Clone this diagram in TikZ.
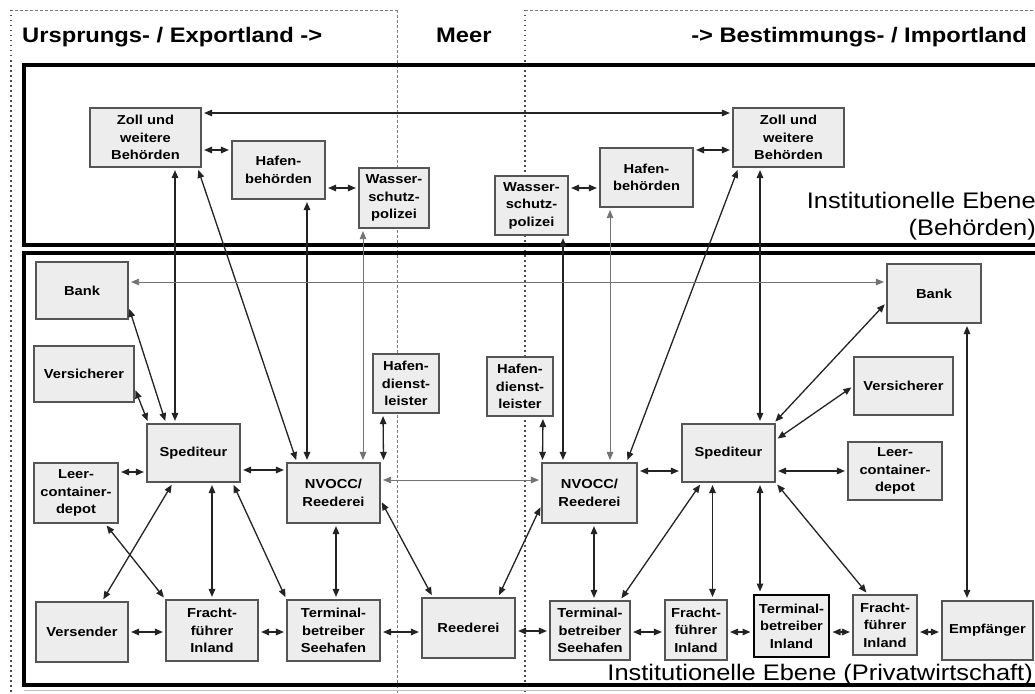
\documentclass[tikz,border=0pt]{standalone}
\usepackage{fontspec}
\newfontfamily\labelfont[FakeStretch=1.13]{Liberation Sans}
\usetikzlibrary{arrows.meta}
\definecolor{boxfill}{RGB}{237,237,237}
\definecolor{boxline}{RGB}{85,85,85}
\definecolor{arrowdark}{RGB}{35,35,35}
\definecolor{arrowgray}{RGB}{115,115,115}
\definecolor{regionline}{RGB}{125,125,125}

\begin{document}
\begin{tikzpicture}[x=1pt,y=-1pt,
  box/.style={draw=boxline, fill=boxfill, line width=1.1pt, inner sep=0pt, align=center,
              font=\labelfont\bfseries\fontsize{13}{17.5}\selectfont},
  wh/.style 2 args={minimum width=#1pt, minimum height=#2pt},
  strongbox/.style={box, draw=black, line width=2pt},
  link/.style={draw=arrowdark, line width=1.3pt, >={Triangle[length=8pt,width=6.5pt]}, <->,
               shorten <=2.5pt, shorten >=2.5pt},
  faint/.style={link, draw=arrowgray, line width=0.8pt},
  frame/.style={draw=black, line width=3.5pt},
  regiondash/.style={draw=regionline, line width=0.8pt, dash pattern=on 3pt off 2pt},
  regiondot/.style={draw=black!70, line width=1.4pt, dash pattern=on 1.5pt off 3.5pt},
  head/.style={inner sep=0pt, font=\labelfont\bfseries\fontsize{21}{25}\selectfont},
  level/.style={inner sep=0pt, font=\labelfont\fontsize{22.5}{27}\selectfont}]

\useasboundingbox (0,0) rectangle (1035,693);
\clip (0,0) rectangle (1035,693);
\fill[white] (0,0) rectangle (1035,693);

% country / sea regions
\draw[regiondash] (10,10) -- (397,10);
\draw[regiondash] (397,10) -- (397,693);
\draw[regiondot] (11,10) -- (11,693);
\draw[regiondot] (525,10) -- (525,693);
\draw[regiondash] (525,10) -- (1040,10);
\draw[black!25, line width=0.8pt] (24,690) -- (1040,690);

% level frames
\draw[frame] (24,65) rectangle (1060,245);
\draw[frame] (24,253) rectangle (1060,685);

% headings
\node[head, anchor=base west] (hexport) at (22,42) {Ursprungs- / Exportland ->};
\node[head, anchor=base west] (hsea) at (436,42) {Meer};
\node[head, anchor=base east] (himport) at (1027,42) {-> Bestimmungs- / Importland};
\node[level, anchor=base east] (levA) at (1036,208) {Institutionelle Ebene};
\node[level, anchor=base east] (levB) at (1036,235) {(Behörden)};
\node[level, anchor=base east] (levC) at (1033,680) {Institutionelle Ebene (Privatwirtschaft)};

% authorities
\node[box, wh={111}{59}] (zollL) at (145.5,137.5) {Zoll und\\weitere\\Behörden};
\node[box, wh={93}{58}]  (hafbL) at (278.5,170) {Hafen-\\behörden};
\node[box, wh={70}{60}]  (wspL)  at (394,198) {Wasser-\\schutz-\\polizei};
\node[box, wh={73}{59}]  (wspR)  at (531.5,205.5) {Wasser-\\schutz-\\polizei};
\node[box, wh={93}{59}]  (hafbR) at (646.5,177.5) {Hafen-\\behörden};
\node[box, wh={111}{59}] (zollR) at (788.5,137.5) {Zoll und\\weitere\\Behörden};

% private sector, export side
\node[box, wh={92}{57}]  (bankL) at (82,290.5) {Bank};
\node[box, wh={100}{56}] (versL) at (84,374) {Versicherer};
\node[box, wh={93}{58}]  (spedL) at (193.5,453) {Spediteur};
\node[box, wh={93}{60}]  (nvoL)  at (333.5,493) {NVOCC/\\Reederei};
\node[box, wh={66}{59}]  (hdlL)  at (406,383.5) {Hafen-\\dienst-\\leister};
\node[box, wh={84}{60}]  (leerL) at (76,493) {Leer-\\container-\\depot};
\node[box, wh={92}{60}]  (versender) at (82,632) {Versender};
\node[box, wh={92}{61}]  (ffL)   at (212,630.5) {Fracht-\\führer\\Inland};
\node[box, wh={93}{61}]  (tsL)   at (333.5,630.5) {Terminal-\\betreiber\\Seehafen};
\node[box, wh={93}{60}]  (reederei) at (468.5,628) {Reederei};

% private sector, import side
\node[box, wh={66}{59}]  (hdlR)  at (520,386.5) {Hafen-\\dienst-\\leister};
\node[box, wh={95}{60}]  (nvoR)  at (589.5,493) {NVOCC/\\Reederei};
\node[box, wh={93}{58}]  (spedR) at (728.5,453) {Spediteur};
\node[box, wh={94}{58}]  (leerR) at (895,471) {Leer-\\container-\\depot};
\node[box, wh={94}{59}]  (bankR) at (934,293.5) {Bank};
\node[box, wh={99}{58}]  (versR) at (903.5,386) {Versicherer};
\node[box, wh={80}{59}]  (tsR)   at (590,630.5) {Terminal-\\betreiber\\Seehafen};
\node[box, wh={62}{60}]  (ffR1)  at (696,630) {Fracht-\\führer\\Inland};
\node[strongbox, wh={75}{62}] (tiR) at (791.5,626) {Terminal-\\betreiber\\Inland};
\node[box, wh={64}{60}]  (ffR2)  at (885,625) {Fracht-\\führer\\Inland};
\node[box, wh={91}{59}]  (empf)  at (987.5,630.5) {Empfänger};

% links between authorities
\draw[link] ([shift={(0,-24.5)}]zollL.east) -- ([shift={(0,-24.5)}]zollR.west);
\draw[link] ([shift={(0,12.5)}]zollL.east) -- ([shift={(0,-20)}]hafbL.west);
\draw[link] ([shift={(0,18)}]hafbL.east) -- ([shift={(0,-10)}]wspL.west);
\draw[link] ([shift={(0,-17.5)}]wspR.east) -- ([shift={(0,10.5)}]hafbR.west);
\draw[link] ([shift={(0,-27.5)}]hafbR.east) -- ([shift={(0,12.5)}]zollR.west);

% authorities to private sector, export side
\draw[link] ([shift={(29.5,0)}]zollL.south) -- ([shift={(-18.5,0)}]spedL.north);
\draw[link] ([shift={(52,0)}]zollL.south) -- ([shift={(-36.5,0)}]nvoL.north);
\draw[link] ([shift={(28.5,0)}]hafbL.south) -- ([shift={(-26.5,0)}]nvoL.north);
\draw[faint] ([shift={(-31,0)}]wspL.south) -- ([shift={(29.5,0)}]nvoL.north);
\draw[link] ([shift={(-23,0)}]hdlL.south) -- ([shift={(3,0)}]nvoL.north east);

% authorities to private sector, import side
\draw[link] ([shift={(31.5,0)}]wspR.south) -- ([shift={(-26.5,0)}]nvoR.north);
\draw[faint] ([shift={(-36.5,0)}]hafbR.south) -- ([shift={(20.5,0)}]nvoR.north);
\draw[link] ([shift={(-50,0)}]zollR.south) -- ([shift={(37,0)}]nvoR.north);
\draw[link] ([shift={(-28.5,0)}]zollR.south) -- ([shift={(31.5,0)}]spedR.north);
\draw[link] ([shift={(23,0)}]hdlR.south) -- ([shift={(1,0)}]nvoR.north west);

% private sector, export side
\draw[faint] ([shift={(0,-8.5)}]bankL.east) -- ([shift={(0,-11.5)}]bankR.west);
\draw[link] ([shift={(0,16)}]bankL.east) -- ([shift={(-27.5,0)}]spedL.north);
\draw[link] ([shift={(0,14)}]versL.east) -- ([shift={(-45,0)}]spedL.north);
\draw[link] ([shift={(0,-21)}]leerL.east) -- ([shift={(0,19)}]spedL.west);
\draw[link] ([shift={(0,17)}]spedL.east) -- ([shift={(0,-23)}]nvoL.west);
\draw[faint] ([shift={(0,-13)}]nvoL.east) -- ([shift={(0,-13)}]nvoR.west);
\draw[link] ([shift={(-20.5,0)}]spedL.south) -- ([shift={(20,0)}]versender.north);
\draw[link] ([shift={(29,0)}]leerL.south) -- (ffL.north west);
\draw[link] ([shift={(18.5,0)}]spedL.south) -- (ffL.north);
\draw[link] ([shift={(39,0)}]spedL.south) -- (tsL.north west);
\draw[link] ([shift={(2.5,0)}]nvoL.south) -- ([shift={(2.5,0)}]tsL.north);
\draw[link] ([shift={(0,7)}]nvoL.east) -- ([shift={(-35.5,0)}]reederei.north);
\draw[link] (versender.east) -- ([shift={(0,1.5)}]ffL.west);
\draw[link] ([shift={(0,1.5)}]ffL.east) -- ([shift={(0,1.5)}]tsL.west);
\draw[link] ([shift={(0,1.5)}]tsL.east) -- ([shift={(0,4)}]reederei.west);

% private sector, import side
\draw[link] ([shift={(0,3)}]reederei.east) -- ([shift={(0,0.5)}]tsR.west);
\draw[link] ([shift={(29.5,0)}]reederei.north) -- ([shift={(0,12)}]nvoR.west);
\draw[link] ([shift={(4.5,0)}]nvoR.south) -- ([shift={(4,0)}]tsR.north);
\draw[link] ([shift={(-27,0)}]spedR.south) -- ([shift={(30,0)}]tsR.north);
\draw[link] ([shift={(-16,0)}]spedR.south) -- ([shift={(16.5,0)}]ffR1.north);
\draw[link] ([shift={(31.5,0)}]spedR.south) -- ([shift={(-31.5,0)}]tiR.north);
\draw[link] (spedR.south east) -- ([shift={(-17,0)}]ffR2.north);
\draw[link] ([shift={(0,18)}]spedR.east) -- (leerR.west);
\draw[link] ([shift={(0,-22)}]nvoR.east) -- ([shift={(0,18)}]spedR.west);
\draw[link] ([shift={(-2,0)}]spedR.north east) -- ([shift={(0,9)}]bankR.west);
\draw[link] ([shift={(0,-13)}]spedR.east) -- (versR.west);
\draw[link] ([shift={(33,0)}]bankR.south) -- ([shift={(-20.5,0)}]empf.north);
\draw[link] ([shift={(0,1.5)}]tsR.east) -- ([shift={(0,2)}]ffR1.west);
\draw[link] ([shift={(0,2)}]ffR1.east) -- ([shift={(0,6)}]tiR.west);
\draw[link] ([shift={(0,6)}]tiR.east) -- ([shift={(0,7)}]ffR2.west);
\draw[link] ([shift={(0,7)}]ffR2.east) -- ([shift={(0,1.5)}]empf.west);

\end{tikzpicture}
\end{document}
